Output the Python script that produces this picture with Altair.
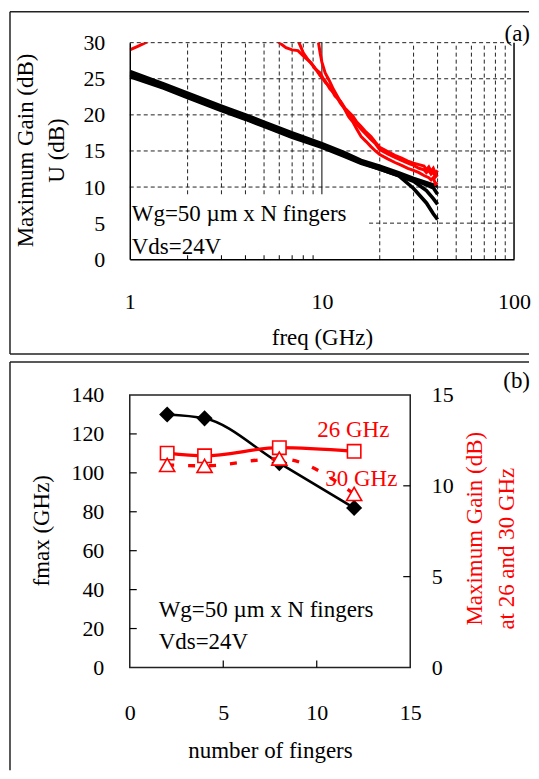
import altair as alt
import pandas as pd

FONT = "Liberation Serif, Times New Roman, Tinos, DejaVu Serif, serif"
RED = "#ff0000"
FS = 23
LFS = 22

# ---------------- Panel (a) data ----------------
u_freq = [1, 1.5, 2, 3, 4, 5, 7, 10, 13, 16, 20, 25, 30, 35, 38, 40]
u_curve1 = [26.0, 24.3, 23.0, 21.2, 20.0, 19.0, 17.5, 16.0, 14.8, 13.7, 12.9, 12.0, 11.2, 10.6, 10.3, 10.1]
u_curve2 = [25.7, 24.0, 22.7, 20.9, 19.7, 18.7, 17.2, 15.7, 14.5, 13.5, 12.7, 11.8, 11.0, 10.3, 9.9, 9.0]
u_curve3 = [25.3, 23.7, 22.4, 20.6, 19.4, 18.4, 16.9, 15.5, 14.3, 13.3, 12.5, 11.6, 10.8, 9.5, 8.4, 7.6]
u_curve4 = [25.5, 23.8, 22.5, 20.7, 19.5, 18.5, 17.0, 15.6, 14.4, 13.4, 12.5, 11.6, 9.8, 7.8, 6.3, 5.5]

r1_freq = [1, 1.1, 1.23, 1.5, 2, 4, 5.5, 6.0, 6.5, 7.0, 7.5, 8.2, 8.8, 9.2, 9.8, 10.4, 11.0, 11.7, 12.5,
           13.2, 13.8, 14.5, 15.2, 16, 17, 18, 19, 20, 22, 24, 26, 28, 30, 32, 34, 35, 36, 37, 38, 39, 40]
r1_gain = [29.0, 29.5, 30.1, 31.5, 33, 33, 31, 30.0, 29.3, 29.0, 28.9, 27.9, 27.2, 26.4, 25.8, 24.5, 23.9, 22.6, 21.9,
           20.9, 20.4, 19.8, 19.0, 18.4, 17.6, 17.0, 16.2, 15.5, 14.9, 14.4, 14.0, 13.6, 13.3, 13.1, 12.9, 12.4, 12.8,
           12.2, 12.6, 11.9, 12.3]
r2_freq = [7.2, 7.6, 8.0, 8.5, 9.2, 9.8, 10.4, 11.0, 11.7, 12.5, 13.2, 13.8, 14.5, 15.2, 16, 17, 18, 19, 20,
           22, 24, 26, 28, 30, 32, 34, 35, 36, 37, 38, 39, 40]
r2_gain = [31, 30, 28.6, 27.6, 26.5, 25.4, 24.7, 23.6, 22.9, 21.6, 20.8, 20.1, 19.4, 18.7, 18.0, 17.3, 16.6, 16.0, 15.2,
           14.6, 14.1, 13.7, 13.3, 13.0, 12.6, 12.4, 12.0, 12.3, 11.8, 12.1, 11.4, 11.7]
r3_freq = [9.4, 9.6, 9.8, 10.0, 10.4, 10.9, 11.5, 12.2, 13.0, 13.8, 14.5, 15.2, 16, 17, 18, 19, 20,
           22, 24, 26, 28, 30, 32, 34, 36, 37, 38, 39, 40]
r3_gain = [31, 30, 28.5, 27.3, 25.8, 24.8, 23.5, 22.3, 21.0, 19.7, 19.0, 18.0, 17.0, 16.3, 15.6, 15.0, 14.5,
           13.9, 13.4, 13.0, 12.6, 12.3, 12.0, 11.6, 11.3, 11.0, 11.3, 10.4, 10.6]

a_x_ticks = [1, 10, 100]
a_y_ticks = [0, 5, 10, 15, 20, 25, 30]
a_grid_f = [2, 3, 4, 5, 6, 7, 8, 9, 20, 30, 40, 50, 60, 70, 80, 90]
a_grid_db = [5, 10, 15, 20, 25, 30]
a_minor_ticks = [2, 3, 4, 5, 6, 7, 8, 9]

# ---------------- Panel (b) data ----------------
fingers = [2, 4, 8, 12]
fmax = [130, 128, 105, 82]
gain_26 = [11.8, 11.65, 12.1, 11.9]
gain_30 = [11.15, 11.1, 11.5, 9.55]

b_x_ticks = [0, 5, 10, 15]
b_left_ticks = [0, 20, 40, 60, 80, 100, 120, 140]
b_right_ticks = [0, 5, 10, 15]

# annotation box in panel (a) (white region hiding grid)
BOX_RIGHT = 17.6
BOX_TOP = 9.0


def curves_df(freqs, vals, prefix):
    rows = []
    for i, (fs, vs) in enumerate(zip(freqs, vals)):
        for f, v in zip(fs, vs):
            rows.append({"f": f, "db": v, "curve": f"{prefix}{i}"})
    return pd.DataFrame(rows)


one = pd.DataFrame({"k": [0]})


def label(text, x, y, color="black", align="center", angle=0):
    kw = dict(text=text, align=align, baseline="middle", color=color)
    if angle:
        kw["angle"] = angle
    return alt.Chart(one).mark_text(**kw).encode(x=alt.value(x), y=alt.value(y))


def hline(x1, x2, y):
    return alt.Chart(one).mark_rule(color="#222", strokeWidth=1.5).encode(
        x=alt.value(x1), x2=alt.value(x2), y=alt.value(y))


def vline(x, y1, y2):
    return alt.Chart(one).mark_rule(color="#222", strokeWidth=1.5).encode(
        x=alt.value(x), y=alt.value(y1), y2=alt.value(y2))


X_A = alt.X("f:Q", scale=alt.Scale(type="log", domain=[1, 100], nice=False),
            axis=alt.Axis(values=a_x_ticks, format="d", title="freq (GHz)", grid=False, ticks=False,
                          tickSize=0, labelPadding=32, titlePadding=14, domainColor="black",
                          domainWidth=1.5, zindex=1))
Y_A = alt.Y("db:Q", scale=alt.Scale(domain=[0, 30], nice=False),
            axis=alt.Axis(values=a_y_ticks, title=None, grid=False,
                          ticks=False, tickSize=0, labelPadding=25,
                          domainColor="black", domainWidth=1.5, zindex=1))

gv = pd.DataFrame({"f": a_grid_f,
                   "db": [BOX_TOP if f < BOX_RIGHT else 0 for f in a_grid_f],
                   "db2": [30] * len(a_grid_f)})
gh = pd.DataFrame({"db": a_grid_db,
                   "f": [BOX_RIGHT if d < BOX_TOP else 1 for d in a_grid_db],
                   "f2": [100] * len(a_grid_db)})

grid_v = alt.Chart(gv).mark_rule(color="#222", strokeWidth=1, strokeDash=[4, 3]).encode(
    x=X_A, y=Y_A, y2=alt.Y2("db2"))
grid_h = alt.Chart(gh).mark_rule(color="#222", strokeWidth=1, strokeDash=[4, 3]).encode(
    y=Y_A, x=X_A, x2=alt.X2("f2"))
solid10 = alt.Chart(pd.DataFrame({"f": [10], "db": [BOX_TOP], "db2": [30]})).mark_rule(
    color="black", strokeWidth=1).encode(x=X_A, y=Y_A, y2=alt.Y2("db2"))
right_border = alt.Chart(pd.DataFrame({"f": [100], "db": [0], "db2": [30]})).mark_rule(
    color="black", strokeWidth=1.5).encode(x=X_A, y=Y_A, y2=alt.Y2("db2"))
minor_ticks = alt.Chart(pd.DataFrame({"f": a_minor_ticks})).mark_rule(
    color="black", strokeWidth=1).encode(x=X_A, y=alt.value(217), y2=alt.value(213))

black_df = curves_df([u_freq] * 4, [u_curve1, u_curve2, u_curve3, u_curve4], "u")
red_df = curves_df([r1_freq, r2_freq, r3_freq], [r1_gain, r2_gain, r3_gain], "r")

black_lines = alt.Chart(black_df).mark_line(color="black", strokeWidth=3.6, clip=True).encode(
    x=X_A, y=Y_A, detail="curve:N")
red_lines = alt.Chart(red_df).mark_line(color=RED, strokeWidth=3.0, clip=True).encode(
    x=X_A, y=Y_A, detail="curve:N")

panel_a = alt.layer(
    grid_v, grid_h, solid10, right_border, minor_ticks, black_lines, red_lines,
    label("Wg=50 µm x N fingers", 2, 172, align="left"),
    label("Vds=24V", 2, 205, align="left"),
    label("(a)", 401, -9, align="right"),
    label("Maximum Gain (dB)", -104, 108, angle=270),
    label("U (dB)", -73, 108, angle=270),
    hline(-120, 400, -31), vline(-120, -31, 312), hline(-120, 400, 312)
).properties(width=385, height=217, view=alt.ViewBackground(stroke=None))

# ---------------- Panel (b) ----------------
X_B = alt.X("N:Q", scale=alt.Scale(domain=[0, 15], nice=False),
            axis=alt.Axis(values=b_x_ticks, title="number of fingers", grid=False, ticks=False,
                          tickSize=0, labelPadding=35, titlePadding=16, domain=False))
Y_L = alt.Y("fmax:Q", scale=alt.Scale(domain=[0, 140], nice=False),
            axis=alt.Axis(values=b_left_ticks, title=None, orient="left", grid=False,
                          ticks=False, tickSize=0, labelPadding=26, domain=False))
Y_R = alt.Y("gain:Q", scale=alt.Scale(domain=[0, 15], nice=False),
            axis=alt.Axis(values=b_right_ticks, title=None, orient="right", grid=False,
                          ticks=False, tickSize=0, labelPadding=21, domain=False))

df_f = pd.DataFrame({"N": fingers, "fmax": fmax})
df26 = pd.DataFrame({"N": fingers, "gain": gain_26})
df30 = pd.DataFrame({"N": fingers, "gain": gain_30})

black_line = alt.Chart(df_f).mark_line(color="black", strokeWidth=2.6, interpolate="monotone").encode(
    x=X_B, y=Y_L)
black_pts = alt.Chart(df_f).mark_point(shape="diamond", size=260, filled=True, color="black",
                                       opacity=1).encode(x=X_B, y=Y_L)
ticks_left = alt.Chart(pd.DataFrame({"fmax": b_left_ticks[1:-1]})).mark_rule(
    color="black", strokeWidth=1.2).encode(y=Y_L, x=alt.value(0), x2=alt.value(7))
ticks_bottom = alt.Chart(pd.DataFrame({"N": b_x_ticks[1:-1]})).mark_rule(
    color="black", strokeWidth=1.2).encode(x=X_B, y=alt.value(273), y2=alt.value(266))

left_layer = alt.layer(
    black_line, black_pts, ticks_left, ticks_bottom,
    label("Wg=50 µm x N fingers", 29, 215, align="left"),
    label("Vds=24V", 29, 247, align="left"),
    label("(b)", 401, -14, align="right"),
    label("fmax (GHz)", -88, 136, angle=270),
    label("Maximum Gain (dB)", 346, 134, color=RED, angle=270),
    label("at 26 and 30 GHz", 378, 154, color=RED, angle=270),
    hline(-120, 400, -33), vline(-120, -33, 376)
)

red26_line = alt.Chart(df26).mark_line(color=RED, strokeWidth=3.3, interpolate="monotone").encode(
    x=X_B, y=Y_R)
red30_line = alt.Chart(df30).mark_line(color=RED, strokeWidth=3.3, strokeDash=[7, 14],
                                       interpolate="monotone").encode(x=X_B, y=Y_R)
red26_pts = alt.Chart(df26).mark_point(shape="square", size=180, filled=True, fill="white",
                                       stroke=RED, strokeWidth=1.6, opacity=1).encode(x=X_B, y=Y_R)
red30_pts = alt.Chart(df30).mark_point(shape="triangle-up", size=230, filled=True, fill="white",
                                       stroke=RED, strokeWidth=1.6, opacity=1).encode(x=X_B, y=Y_R)
ticks_right = alt.Chart(pd.DataFrame({"gain": b_right_ticks[1:-1]})).mark_rule(
    color="black", strokeWidth=1.2).encode(y=Y_R, x=alt.value(281), x2=alt.value(274))

right_layer = alt.layer(red26_line, red30_line, red26_pts, red30_pts, ticks_right,
                        label("26 GHz", 224, 35, color=RED),
                        label("30 GHz", 232, 84, color=RED))

panel_b = alt.layer(left_layer, right_layer).resolve_scale(y="independent").properties(
    width=281, height=273, view=alt.ViewBackground(stroke="#222", strokeWidth=1.5))

chart = alt.vconcat(panel_a, panel_b, spacing=136, bounds="flush").properties(
    padding={"left": 0, "top": 2, "right": 0, "bottom": 0}
).configure_axis(
    labelFont=FONT, titleFont=FONT, labelFontSize=LFS, titleFontSize=FS, titleFontWeight="normal",
    labelColor="black", titleColor="black", labelFlush=False, labelOverlap=False
).configure_text(font=FONT, fontSize=FS)

chart.save("out.html", embed_options={"renderer": "svg", "actions": False})
